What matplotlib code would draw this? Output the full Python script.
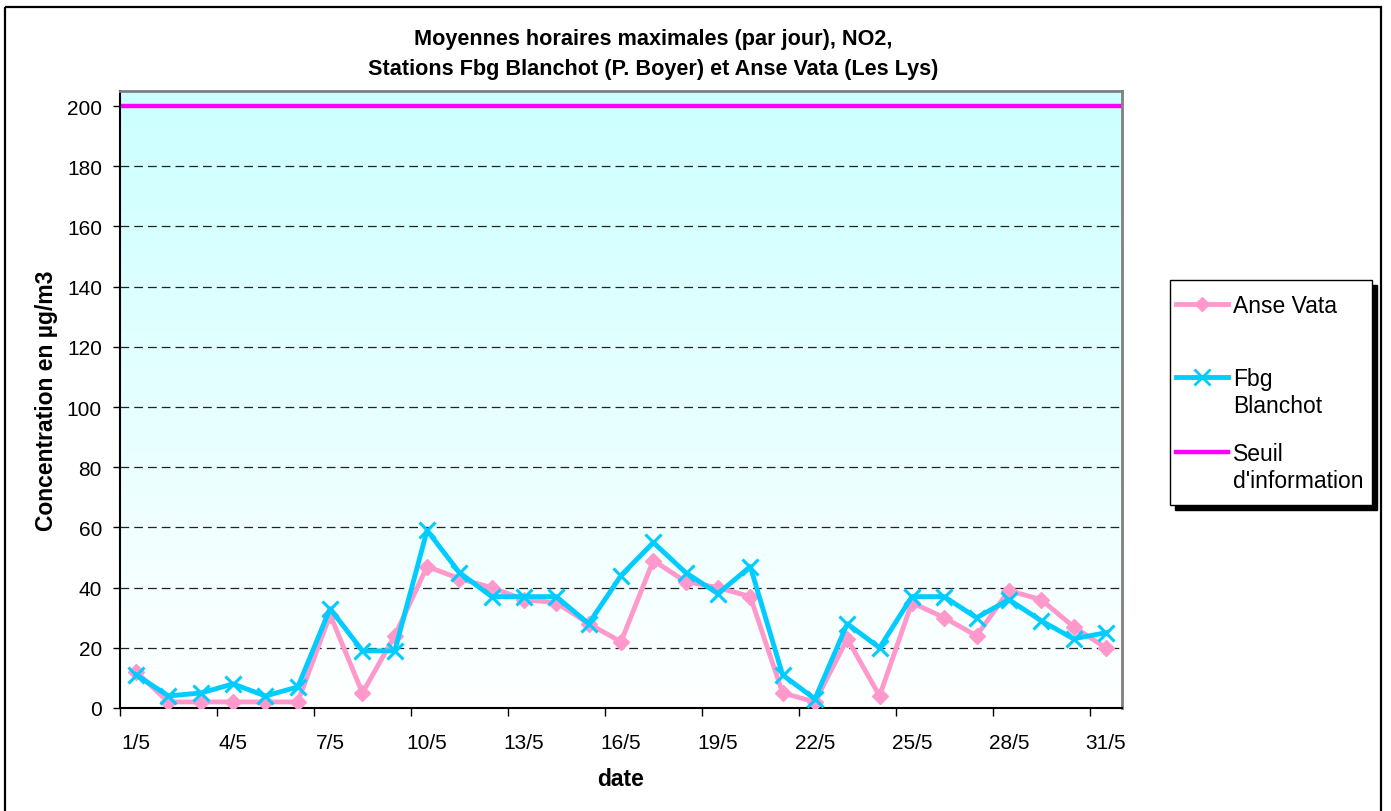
import numpy as np
import matplotlib
matplotlib.use("Agg")
import matplotlib.pyplot as plt
from matplotlib.patches import Rectangle

plt.rcParams['font.family'] = ['Liberation Sans', 'DejaVu Sans']

days = np.arange(1, 32)
tick_labels = ["%d/5" % d for d in days[::3]]
anse_vata = [12, 2, 2, 2, 2, 2, 31, 5, 24, 47, 43, 40, 36, 35, 28, 22, 49, 42, 40, 37,
             5, 2, 23, 4, 35, 30, 24, 39, 36, 27, 20]
fbg_blanchot = [11, 4, 5, 8, 4, 7, 33, 19, 19, 59, 45, 37, 37, 37, 28, 44, 55, 45, 38, 47,
                11, 3, 28, 20, 37, 37, 30, 36, 29, 23, 25]
seuil = 200
legend_labels = ["Anse Vata", "Fbg\nBlanchot", "Seuil\nd'information"]

pink = '#ff99cc'
blue = '#00ccff'
magenta = '#ff00ff'

W, H = 1391, 812
fig = plt.figure(figsize=(W / 100, H / 100), dpi=100)

# overlay in pixel coords for frame + legend
ov = fig.add_axes([0, 0, 1, 1], zorder=5)
ov.set_xlim(0, W)
ov.set_ylim(H, 0)
ov.axis('off')
ov.patch.set_alpha(0)

ax = fig.add_axes([120 / W, 1 - 709 / H, (1122 - 120) / W, (709 - 92) / H])

# outer frame of the chart
ov.add_patch(Rectangle((5, 8), 1381 - 5, H, fill=False, lw=1.6, edgecolor='black'))

ymax = 205
ax.set_xlim(0.5, 31.5)
ax.set_ylim(0, ymax)

# gradient background (light cyan top -> white bottom)
grad = np.linspace(0, 1, 256).reshape(-1, 1)
top = np.array([204, 255, 255]) / 255.
bot = np.array([255, 255, 255]) / 255.
img = grad[..., None] * top + (1 - grad[..., None]) * bot
ax.imshow(img, extent=[0.5, 31.5, 0, ymax], origin='lower', aspect='auto', zorder=0)

for yv in range(20, 200, 20):
    ax.axhline(yv, color='#222222', lw=0.9, ls=(0, (7, 4)), zorder=1)

ax.axhline(seuil, color=magenta, lw=3.2, zorder=2)
ax.plot(days, anse_vata, color=pink, lw=3.5, marker='D', ms=8,
        mec=pink, mfc=pink, zorder=3)
ax.plot(days, fbg_blanchot, color=blue, lw=3.5, marker='x', ms=12,
        mew=2.2, zorder=4)

ax.set_yticks(range(0, 201, 20))
ax.tick_params(axis='y', direction='out', length=5, width=1, labelsize=15, pad=8)
ax.set_xticks(np.arange(0.5, 31, 3))
ax.set_xticklabels([])
ax.tick_params(axis='x', which='major', direction='out', length=6, width=1)
ax.set_xticks(days[::3], minor=True)
ax.set_xticklabels(tick_labels, minor=True)
ax.tick_params(axis='x', which='minor', length=0, labelsize=15, pad=18)

for s in ['top', 'right']:
    ax.spines[s].set_color('#808080')
    ax.spines[s].set_linewidth(2)
for s in ['left', 'bottom']:
    ax.spines[s].set_color('black')
    ax.spines[s].set_linewidth(1.5)

ax.set_ylabel("Concentration en µg/m3", fontsize=16.5, fontweight='bold', labelpad=6)
ax.set_xlabel("date", fontsize=16.5, fontweight='bold', labelpad=11)

ov.text(653, 40, "Moyennes horaires maximales (par jour), NO2,",
        ha='center', va='center', fontsize=15.6, fontweight='bold')
ov.text(653, 70, "Stations Fbg Blanchot (P. Boyer) et Anse Vata (Les Lys)",
        ha='center', va='center', fontsize=15.6, fontweight='bold')

# legend drawn by hand (handles align with the first text line)
ov.add_patch(Rectangle((1175, 286), 202, 225, facecolor='black', edgecolor='black'))
ov.add_patch(Rectangle((1170, 281), 202, 225, facecolor='white', edgecolor='black', lw=1))
rows = [305, 378, 453]
ov.plot([1176, 1228], [rows[0]] * 2, color=pink, lw=3.5)
ov.plot([1202], [rows[0]], marker='D', ms=7, color=pink)
ov.plot([1176, 1228], [rows[1]] * 2, color=blue, lw=3.5)
ov.plot([1202], [rows[1]], marker='x', ms=11, mew=2, color=blue)
ov.plot([1176, 1228], [rows[2]] * 2, color=magenta, lw=3.2)
for r, lab in zip(rows, legend_labels):
    ov.text(1233, r - 10, lab, ha='left', va='top', fontsize=16.5, linespacing=1.25)

fig.savefig("out.png", dpi=100)
